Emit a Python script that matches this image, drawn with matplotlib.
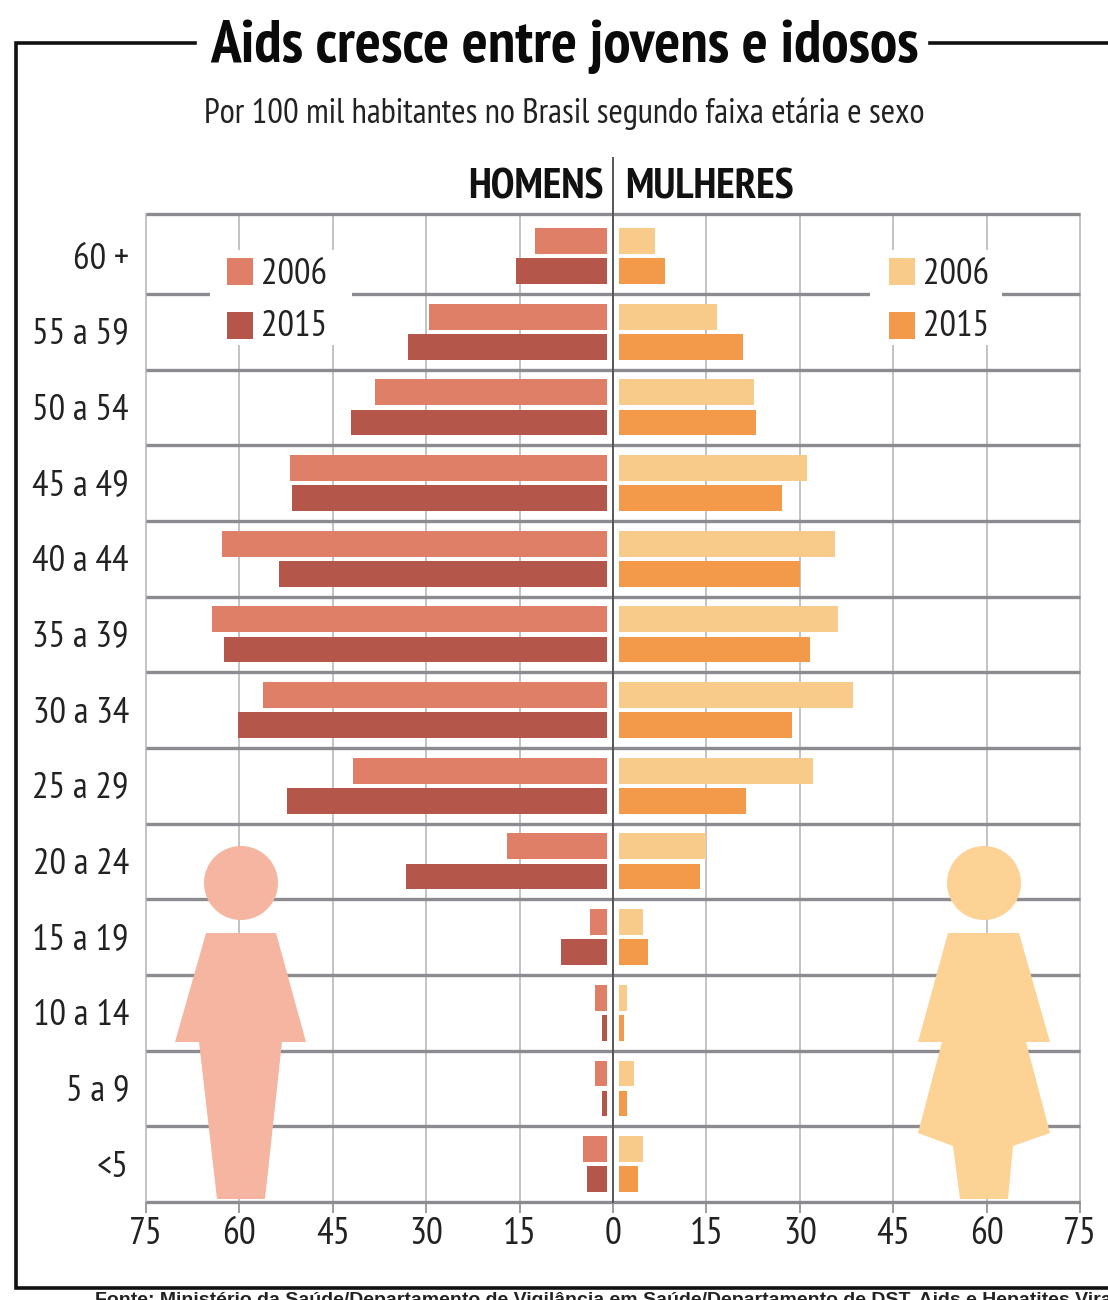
import numpy as np
import matplotlib
matplotlib.use("Agg")
import matplotlib.pyplot as plt
from matplotlib.patches import Polygon, Rectangle

# condensed face first, the listed families stay as a fallback
plt.rcParams['font.family'] = ['PT Sans Narrow', 'Fira Sans Extra Condensed', 'Liberation Sans', 'DejaVu Sans']

W, H = 1108, 1300

ages = ["60 +", "55 a 59", "50 a 54", "45 a 49", "40 a 44", "35 a 39", "30 a 34",
        "25 a 29", "20 a 24", "15 a 19", "10 a 14", "5 a 9", "<5"]
men_2006 = [12.5, 29.5, 38.3, 51.8, 62.8, 64.4, 56.2, 41.7, 17.1, 3.7, 2.9, 2.9, 4.8]
men_2015 = [15.5, 32.9, 42.1, 51.6, 53.7, 62.5, 60.3, 52.4, 33.3, 8.3, 1.8, 1.8, 4.2]
women_2006 = [6.8, 16.7, 22.7, 31.1, 35.7, 36.2, 38.5, 32.2, 15.0, 4.8, 2.3, 3.4, 4.8]
women_2015 = [8.4, 20.8, 23.0, 27.2, 30.1, 31.6, 28.8, 21.4, 14.0, 5.6, 1.8, 2.3, 4.0]
xticks = [-75, -60, -45, -30, -15, 0, 15, 30, 45, 60, 75]

c_m06, c_m15 = "#e07f68", "#b5564a"
c_w06, c_w15 = "#f8cb8b", "#f29a4a"
c_body_m, c_body_w = "#f5b5a0", "#fdd295"
c_grid = "#8c8c90"


def px(x, y):
    # pixel position of the reference -> figure fraction
    return x / W, 1 - y / H


fig = plt.figure(figsize=(W / 100, H / 100), dpi=100, facecolor="white")
ax = fig.add_axes([146 / W, 1 - 1202 / H, (1080 - 146) / W, (1202 - 214) / H])
ax.set_xlim(-75, 75)
ax.set_ylim(12, -1.057)
ax.patch.set_alpha(0)

rows = np.arange(13) - 0.5
gap = 1.0  # bars start a little away from the centre line
h = 0.34
ax.barh(rows - 0.2, -(np.array(men_2006) - gap), left=-gap, height=h, color=c_m06, zorder=4)
ax.barh(rows + 0.2, -(np.array(men_2015) - gap), left=-gap, height=h, color=c_m15, zorder=4)
ax.barh(rows - 0.2, np.array(women_2006) - gap, left=gap, height=h, color=c_w06, zorder=4)
ax.barh(rows + 0.2, np.array(women_2015) - gap, left=gap, height=h, color=c_w15, zorder=4)

for v in xticks:
    if v != 0:
        ax.axvline(v, color="#b9b9bd", lw=1.2, zorder=1, clip_on=False)
for y in [-1.057] + list(range(0, 13)):
    ax.axhline(y, color=c_grid, lw=2.4, zorder=3, solid_capstyle="butt", clip_on=False)
ax.plot([0, 0], [12, -1.8], color="#55565c", lw=1.4, zorder=5, clip_on=False)

for s in ax.spines.values():
    s.set_visible(False)
ax.set_xticks(xticks)
ax.set_xticklabels([str(abs(v)) for v in xticks], fontsize=27, color="#222222")
ax.set_yticks(rows)
ax.set_yticklabels([])
ax.tick_params(axis="x", length=8, width=1.2, color=c_grid, pad=3)
ax.tick_params(axis="y", length=0)
for r, a in zip(rows, ages):
    fig.text(129 / W, ax.transData.transform((0, r))[1] / H - 3 / H, a, ha="right", va="center",
             fontsize=26.5, color="#222222")

# silhouettes
man = [(206, 933), (276, 933), (306, 1042), (282, 1042), (265, 1199), (217, 1199), (199, 1042), (175, 1042)]
woman = [(948, 933), (1019, 933), (1050, 1042), (1026, 1042), (1050, 1133), (1013, 1146),
         (1008, 1199), (960, 1199), (953, 1146), (918, 1133), (942, 1042), (918, 1042)]
for pts, col, cx in [(man, c_body_m, 241), (woman, c_body_w, 984)]:
    fig.add_artist(Polygon([px(*p) for p in pts], closed=True, transform=fig.transFigure,
                           color=col, lw=0, zorder=1))
    fig.add_artist(Polygon([px(cx + 37 * np.cos(t), 883 + 37 * np.sin(t))
                            for t in np.linspace(0, 2 * np.pi, 80)], closed=True,
                           transform=fig.transFigure, color=col, lw=0, zorder=1))

# legends, white box hides the grid behind
for x0, x1, sw, c1, c2 in [(210, 352, 227, c_m06, c_m15), (870, 1002, 889, c_w06, c_w15)]:
    fig.add_artist(Rectangle(px(x0, 345), (x1 - x0) / W, 95 / H, transform=fig.transFigure,
                             color="white", lw=0, zorder=6))
    for yy, yt, c, lab in [(271, 275, c1, "2006"), (325, 326, c2, "2015")]:
        fig.add_artist(Rectangle(px(sw, yy + 14), 26 / W, 27 / H, transform=fig.transFigure,
                                 color=c, lw=0, zorder=7))
        fig.text((sw + 34) / W, 1 - yt / H, lab, ha="left", va="center", fontsize=26.5,
                 color="#222222", zorder=8)

# frame
frame = [(195, 43), (16, 43), (16, 1288), (1108, 1288)]
fig.add_artist(plt.Line2D([px(*p)[0] for p in frame], [px(*p)[1] for p in frame],
                          color="#111111", lw=2.6, solid_joinstyle="miter"))
fig.add_artist(plt.Line2D([930 / W, 1108 / W], [1 - 43 / H] * 2, color="#111111", lw=2.6))

fig.text(564 / W, 1 - 47 / H, "Aids cresce entre jovens e idosos", ha="center", va="center",
         fontsize=44, fontweight="bold", color="#0a0a0a")
fig.text(564 / W, 1 - 114 / H, "Por 100 mil habitantes no Brasil segundo faixa etária e sexo",
         ha="center", va="center", fontsize=25, color="#222222")
fig.text(604 / W, 1 - 188 / H, "HOMENS", ha="right", va="center", fontsize=31,
         fontweight="bold", color="#111111")
fig.text(625 / W, 1 - 188 / H, "MULHERES", ha="left", va="center", fontsize=31,
         fontweight="bold", color="#111111")
fig.text(95 / W, 1 - 1292 / H, "Fonte: Ministério da Saúde/Departamento de Vigilância em Saúde/Departamento de DST, Aids e Hepatites Virais",
         ha="left", va="top", fontsize=14, fontweight="bold", color="#222222",
         family=['Liberation Sans', 'DejaVu Sans'])

fig.savefig("out.png", dpi=100)
